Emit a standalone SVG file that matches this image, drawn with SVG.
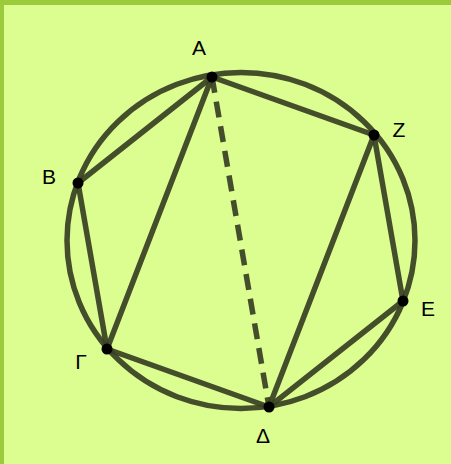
<svg xmlns="http://www.w3.org/2000/svg" width="451" height="464" viewBox="0 0 451 464">
<style>
.ln{stroke:#363f22;stroke-opacity:0.92;stroke-width:5.5;fill:none;stroke-linecap:round}
.dash{stroke-dasharray:16 9;stroke-linecap:butt}
.pt{fill:#000}
.lb{font-family:"Liberation Sans",Arial,sans-serif;font-size:21px;fill:#000;text-anchor:middle}
</style>
<rect x="0" y="0" width="451" height="464" fill="#9bca3b"/>
<rect x="4" y="5" width="447" height="459" fill="#dcfd90"/>
<g id="connectors">
<ellipse class="ln" cx="241" cy="240.5" rx="174" ry="168"/>
<path class="ln" d="M212 77L78 183L107 349L269 407L403 301L374 135Z"/>
<path class="ln" d="M212 77L107 349M269 407L374 135"/>
<path class="ln dash" d="M212 77L269 407"/>
</g>
<g id="A"><circle class="pt" cx="212" cy="77" r="5.5"/><text class="lb" x="199" y="55">A</text></g>
<g id="B"><circle class="pt" cx="78" cy="183" r="5.5"/><text class="lb" x="49" y="184">B</text></g>
<g id="G"><circle class="pt" cx="107" cy="349" r="5.5"/><text class="lb" x="81" y="369">Γ</text></g>
<g id="D"><circle class="pt" cx="269" cy="407" r="5.5"/><text class="lb" x="263" y="443">Δ</text></g>
<g id="E"><circle class="pt" cx="403" cy="301" r="5.5"/><text class="lb" x="428" y="316">E</text></g>
<g id="Z"><circle class="pt" cx="374" cy="135" r="5.5"/><text class="lb" x="399" y="137">Z</text></g>
</svg>
